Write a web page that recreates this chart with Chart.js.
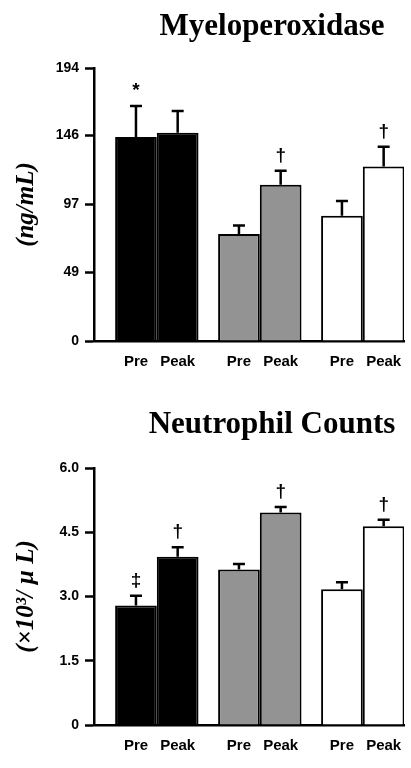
<!DOCTYPE html>
<html>
<head>
<meta charset="utf-8">
<script src="https://cdn.jsdelivr.net/npm/chart.js@4"></script>
<style>
  body { margin: 0; background: #fff; }
  canvas { display: block; }
</style>
</head>
<body>
<canvas id="mpo" width="411" height="384"></canvas>
<canvas id="neu" width="411" height="384"></canvas>
<script>
// three groups, each with a Pre and a Peak bar
const groupPos = [1, 2, 3];
const groupColors = ['#000000', '#939393', '#ffffff'];
const timeLabels = ['Pre', 'Peak'];

// Myeloperoxidase (ng/mL)
const mpoPre = [145, 76, 89];
const mpoPeak = [148, 111, 124];
const mpoPreErr = [22, 6, 10.5];
const mpoPeakErr = [15.5, 10, 14];
const mpoPreMarks = ['*', '', ''];
const mpoPeakMarks = ['', '†', '†'];
const mpoTicks = [0, 49, 97, 146, 194];

// Neutrophil counts (x10^3/uL)
const neuPre = [2.79, 3.63, 3.17];
const neuPeak = [3.93, 4.96, 4.64];
const neuPreErr = [0.23, 0.13, 0.16];
const neuPeakErr = [0.22, 0.13, 0.15];
const neuPreMarks = ['‡', '', ''];
const neuPeakMarks = ['†', '†', '†'];
const neuTicks = [0, 1.5, 3.0, 4.5, 6.0];

// error bars, significance marks, Pre/Peak labels and the title
const extras = {
  id: 'extras',
  afterDraw(chart, args, opts) {
    const ctx = chart.ctx;
    const y = chart.scales.y;
    const area = chart.chartArea;
    ctx.save();
    ctx.fillStyle = '#000';
    ctx.strokeStyle = '#000';
    ctx.textAlign = 'center';
    chart.data.datasets.forEach((ds, d) => {
      const meta = chart.getDatasetMeta(d);
      meta.data.forEach((bar, i) => {
        const top = y.getPixelForValue(ds.data[i].y + ds.err[i]);
        ctx.lineWidth = 2.5;
        ctx.beginPath();
        ctx.moveTo(bar.x, bar.y);
        ctx.lineTo(bar.x, top);
        ctx.moveTo(bar.x - 6, top);
        ctx.lineTo(bar.x + 6, top);
        ctx.stroke();
        if (ds.marks[i]) {
          ctx.font = 'bold 19px "Liberation Sans"';
          ctx.textBaseline = 'middle';
          ctx.fillText(ds.marks[i], bar.x, top - 15);
        }
        ctx.font = 'bold 15px "Liberation Sans"';
        ctx.textBaseline = 'alphabetic';
        ctx.fillText(ds.label, bar.x, area.bottom + 25);
      });
    });
    ctx.font = 'bold 31px "Liberation Serif"';
    ctx.fillText(opts.title, 272, opts.titleY);
    ctx.restore();
  }
};

function makeChart(id, pre, peak, preErr, peakErr, preMarks, peakMarks, ticks, yTitle, title, titleY, top) {
  const toPts = vals => vals.map((v, i) => ({ x: groupPos[i], y: v }));
  return new Chart(document.getElementById(id), {
    type: 'bar',
    data: {
      datasets: [
        { label: timeLabels[0], data: toPts(pre), err: preErr, marks: preMarks },
        { label: timeLabels[1], data: toPts(peak), err: peakErr, marks: peakMarks }
      ].map(ds => Object.assign(ds, {
        backgroundColor: groupColors,
        borderColor: '#000',
        borderWidth: 2,
        categoryPercentage: 0.81,
        barPercentage: 1.0
      }))
    },
    options: {
      responsive: false,
      animation: false,
      layout: { padding: { left: 0, right: 7, top: top, bottom: 0 } },
      plugins: {
        legend: { display: false },
        tooltip: { enabled: false },
        extras: { title: title, titleY: titleY }
      },
      scales: {
        x: {
          type: 'linear',
          min: 0.39,
          max: 3.4,
          offset: false,
          afterBuildTicks: s => { s.ticks = groupPos.map(v => ({ value: v })); },
          grid: { display: false },
          ticks: { display: false },
          border: { color: '#000', width: 2.5 },
          afterFit: s => { s.height = 43; }
        },
        y: {
          min: 0,
          max: ticks[ticks.length - 1],
          afterBuildTicks: s => { s.ticks = ticks.map(v => ({ value: v })); },
          afterFit: s => { s.width = 94; },
          grid: { drawOnChartArea: false, tickLength: 9, tickWidth: 2.5, tickColor: '#000' },
          border: { color: '#000', width: 2.5 },
          ticks: {
            color: '#000',
            padding: 6,
            font: { family: 'Liberation Sans', size: 14, weight: 'bold' },
            callback: v => (ticks.includes(v) ? (Number.isInteger(v) && ticks[1] % 1 ? v.toFixed(v === 0 ? 0 : 1) : String(v)) : '')
          },
          title: {
            display: true,
            text: yTitle,
            color: '#000',
            padding: { top: 12, bottom: 0 },
            font: { family: 'Liberation Serif', size: 25, weight: 'bold', style: 'italic' }
          }
        }
      }
    },
    plugins: [extras]
  });
}

makeChart('mpo', mpoPre, mpoPeak, mpoPreErr, mpoPeakErr, mpoPreMarks, mpoPeakMarks,
  mpoTicks, '(ng/mL)', 'Myeloperoxidase', 35, 68);
makeChart('neu', neuPre, neuPeak, neuPreErr, neuPeakErr, neuPreMarks, neuPeakMarks,
  neuTicks, '(×10³/ µ L)', 'Neutrophil Counts', 49, 84);
</script>
</body>
</html>
